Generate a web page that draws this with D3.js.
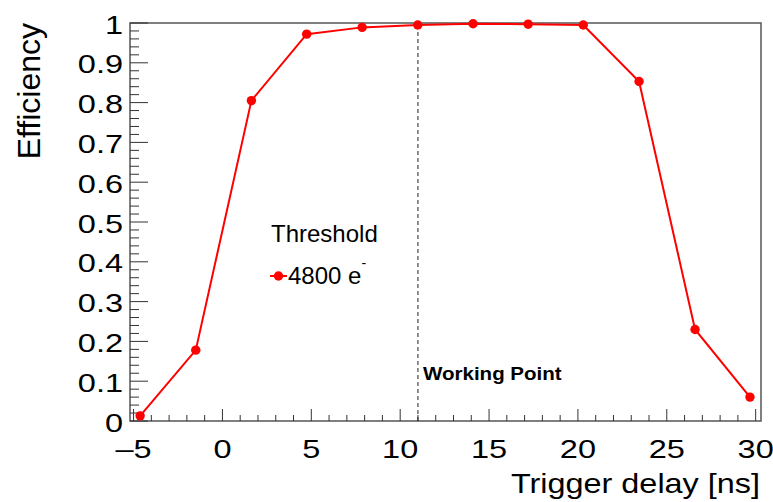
<!DOCTYPE html>
<html lang="en">
<head>
  <meta charset="UTF-8">
  <title>Efficiency vs trigger delay</title>
  <script src="https://d3js.org/d3.v7.min.js"></script>
  <style>
    body { margin: 0; background: #fff; }
    svg { display: block; font-family: "Liberation Sans", Arial, Helvetica, sans-serif; }
  </style>
</head>
<body>
  <svg id="chart" width="773" height="502"></svg>
  <script>
    // Data
    const delays = [-4.63, -1.5, 1.63, 4.74, 7.86, 10.99, 14.1, 17.2, 20.3, 23.44, 26.59, 29.68];
    const efficiency = [0.013, 0.178, 0.805, 0.972, 0.989, 0.995, 0.998, 0.997, 0.995, 0.853, 0.230, 0.060];
    const xMajorTicks = [-5, 0, 5, 10, 15, 20, 25, 30];
    const yMajorTicks = [0, 0.1, 0.2, 0.3, 0.4, 0.5, 0.6, 0.7, 0.8, 0.9, 1];
    const workingPoint = 11;

    const svg = d3.select('#chart');
    const frame = { left: 130, right: 761, top: 23, bottom: 421 };

    const x = d3.scaleLinear().domain([-5.2, 30.3]).range([frame.left, frame.right]);
    const y = d3.scaleLinear().domain([0, 1]).range([frame.bottom, frame.top]);

    // Frame
    svg.append('rect')
      .attr('x', frame.left).attr('y', frame.top)
      .attr('width', frame.right - frame.left).attr('height', frame.bottom - frame.top)
      .attr('fill', 'none').attr('stroke', '#555').attr('stroke-width', 1.5);

    // Y ticks (inside the frame)
    const yMinor = d3.range(0, 51).map(i => i * 0.02);
    svg.append('g').selectAll('line').data(yMinor).join('line')
      .attr('x1', frame.left).attr('x2', (d, i) => frame.left + (i % 5 === 0 ? 18 : 9))
      .attr('y1', d => y(d)).attr('y2', d => y(d))
      .attr('stroke', '#333').attr('stroke-width', 1);
    // labels come out a bit wide in the original, hence the scaleX
    svg.append('g').selectAll('text').data(yMajorTicks).join('text')
      .attr('transform', d => `translate(${frame.left - 7},${y(d) + 10.5}) scale(1.3,1)`)
      .attr('text-anchor', 'end').attr('font-size', 25)
      .text(d => d3.format('~g')(d));

    // X ticks
    const xMinor = d3.range(-5, 31);
    svg.append('g').selectAll('line').data(xMinor).join('line')
      .attr('x1', d => x(d)).attr('x2', d => x(d))
      .attr('y1', frame.bottom).attr('y2', d => frame.bottom - (d % 5 === 0 ? 12 : 6))
      .attr('stroke', '#333').attr('stroke-width', 1);
    svg.append('g').selectAll('text').data(xMajorTicks).join('text')
      .attr('transform', d => `translate(${x(d)},457.5) scale(1.25,1)`)
      .attr('text-anchor', 'middle').attr('font-size', 26)
      .text(d => d < 0 ? '\u2013' + Math.abs(d) : d);

    // Axis titles
    svg.append('text')
      .attr('transform', 'translate(760,493) scale(1.2,1)')
      .attr('text-anchor', 'end').attr('font-size', 27)
      .text('Trigger delay [ns]');
    svg.append('text')
      .attr('transform', 'translate(40,23) rotate(-90)')
      .attr('text-anchor', 'end').attr('font-size', 32)
      .text('Efficiency');

    // Working point marker
    svg.append('line')
      .attr('x1', x(workingPoint)).attr('x2', x(workingPoint))
      .attr('y1', y(0)).attr('y2', y(efficiency[5]))
      .attr('stroke', '#222').attr('stroke-width', 1)
      .attr('stroke-dasharray', '4,3');
    svg.append('text')
      .attr('transform', 'translate(423,380) scale(1.08,1)')
      .attr('font-size', 19).attr('font-weight', 'bold')
      .text('Working Point');

    // Efficiency curve
    const pts = delays.map((d, i) => [x(d), y(efficiency[i])]);
    svg.append('path')
      .attr('d', d3.line()(pts))
      .attr('fill', 'none').attr('stroke', '#f00').attr('stroke-width', 2);
    svg.append('g').selectAll('circle').data(pts).join('circle')
      .attr('cx', d => d[0]).attr('cy', d => d[1]).attr('r', 4.7)
      .attr('fill', '#f00');

    // Legend
    svg.append('text')
      .attr('x', 271).attr('y', 242).attr('font-size', 24)
      .text('Threshold');
    svg.append('line')
      .attr('x1', 270).attr('x2', 287).attr('y1', 276).attr('y2', 276)
      .attr('stroke', '#f00').attr('stroke-width', 2);
    svg.append('circle')
      .attr('cx', 278.5).attr('cy', 276).attr('r', 4.7).attr('fill', '#f00');
    const leg = svg.append('text')
      .attr('x', 288).attr('y', 284).attr('font-size', 24);
    leg.append('tspan').text('4800 e');
    leg.append('tspan').attr('dy', -16).attr('font-size', 14).text('-');
  </script>
</body>
</html>
